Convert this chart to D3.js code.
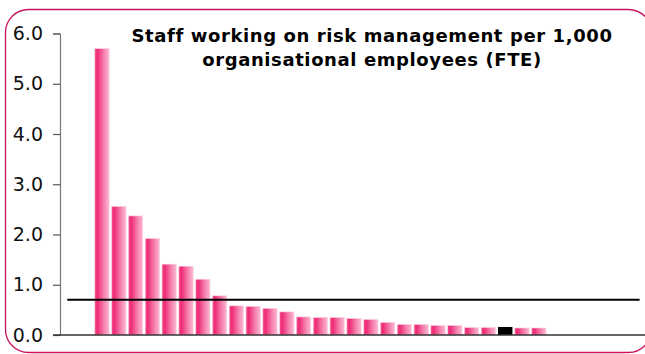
<!DOCTYPE html>
<html>
<head>
<meta charset="utf-8">
<script src="https://cdn.jsdelivr.net/npm/d3@7"></script>
<style>
  html, body { margin: 0; padding: 0; background: #fff; }
  svg { display: block; }
</style>
</head>
<body>
<svg id="chart" width="645" height="354"></svg>
<script>
// Staff on risk management per 1,000 FTE, one bar per organisation, sorted descending
const orgCodes = [
  "A", "B", "C", "D", "E", "F", "G", "H", "I", "J", "K", "L", "M", "N",
  "O", "P", "Q", "R", "S", "T", "U", "V", "W", "X", "Y", "Z", "AA"
];
const staffPer1000 = [
  5.70, 2.56, 2.37, 1.92, 1.41, 1.37, 1.11, 0.78, 0.58, 0.57, 0.53, 0.46, 0.36, 0.35,
  0.35, 0.33, 0.31, 0.25, 0.21, 0.21, 0.19, 0.19, 0.15, 0.15, 0.16, 0.14, 0.14
];
const highlightedOrg = "Y";
const leadingSlots = ["_l1", "_l2"];
const trailingSlots = ["_t1", "_t2", "_t3", "_t4", "_t5", "_t6"];
const benchmark = 0.7;
const yTicks = [0, 1, 2, 3, 4, 5, 6];
const titleLines = [
  "Staff working on risk management per 1,000",
  "organisational employees (FTE)"
];

const categories = leadingSlots.concat(orgCodes, trailingSlots);
const bars = orgCodes.map((code, i) => ({ code, value: staffPer1000[i] }));

const svg = d3.select("#chart");
const font = "'DejaVu Sans', Verdana, sans-serif";

// rounded magenta frame
svg.append("rect")
  .attr("x", 5.5).attr("y", 9.5)
  .attr("width", 646).attr("height", 343)
  .attr("rx", 23).attr("ry", 23)
  .attr("fill", "none")
  .attr("stroke", "#c8145e")
  .attr("stroke-width", 1.3);

// gradient for the bars
const defs = svg.append("defs");
const grad = defs.append("linearGradient")
  .attr("id", "barFill")
  .attr("x1", "0%").attr("x2", "100%").attr("y1", "0%").attr("y2", "0%");
grad.append("stop").attr("offset", "0%").attr("stop-color", "#f0548e");
grad.append("stop").attr("offset", "18%").attr("stop-color", "#ee2a76");
grad.append("stop").attr("offset", "60%").attr("stop-color", "#f57aaa");
grad.append("stop").attr("offset", "100%").attr("stop-color", "#fbbad4");

const x = d3.scaleBand()
  .domain(categories)
  .range([60, 648])
  .paddingInner(0.14)
  .paddingOuter(0.07);

const y = d3.scaleLinear()
  .domain([0, 6])
  .range([335, 33.5]);

// bars
svg.append("g")
  .selectAll("rect")
  .data(bars)
  .join("rect")
  .attr("x", d => x(d.code))
  .attr("y", d => y(d.value))
  .attr("width", x.bandwidth())
  .attr("height", d => y(0) - y(d.value))
  .attr("fill", d => d.code === highlightedOrg ? "#000" : "url(#barFill)")
  .attr("stroke", d => d.code === highlightedOrg ? "none" : "#fcd3e3")
  .attr("stroke-width", 0.6);

// y axis
const yAxis = svg.append("g")
  .attr("transform", "translate(60,0)")
  .call(d3.axisLeft(y).tickValues(yTicks).tickFormat(d3.format(".1f")).tickSize(7).tickPadding(10));
yAxis.select(".domain").attr("stroke", "#777").attr("stroke-width", 1.2);
yAxis.selectAll(".tick line").attr("stroke", "#555").attr("stroke-width", 1.2);
yAxis.selectAll(".tick text")
  .attr("font-family", font)
  .attr("font-size", 19)
  .attr("fill", "#111");

// x axis baseline
svg.append("line")
  .attr("x1", 53).attr("x2", 648)
  .attr("y1", y(0)).attr("y2", y(0))
  .attr("stroke", "#333")
  .attr("stroke-width", 1.5);

// benchmark line across all categories
const firstCenter = x(categories[0]) + x.bandwidth() / 2;
const lastCenter = x(categories[categories.length - 1]) + x.bandwidth() / 2;
svg.append("line")
  .attr("x1", firstCenter - 0.5 * (x.step() - x.bandwidth()))
  .attr("x2", lastCenter)
  .attr("y1", y(benchmark)).attr("y2", y(benchmark))
  .attr("stroke", "#000")
  .attr("stroke-width", 2);

// title
const title = svg.append("text")
  .attr("font-family", font)
  .attr("font-size", 18)
  .attr("font-weight", "bold")
  .attr("letter-spacing", 0.6)
  .attr("fill", "#000")
  .attr("text-anchor", "middle");
titleLines.forEach((line, i) => {
  title.append("tspan")
    .attr("x", 372)
    .attr("y", 42 + i * 24)
    .text(line);
});
</script>
</body>
</html>
